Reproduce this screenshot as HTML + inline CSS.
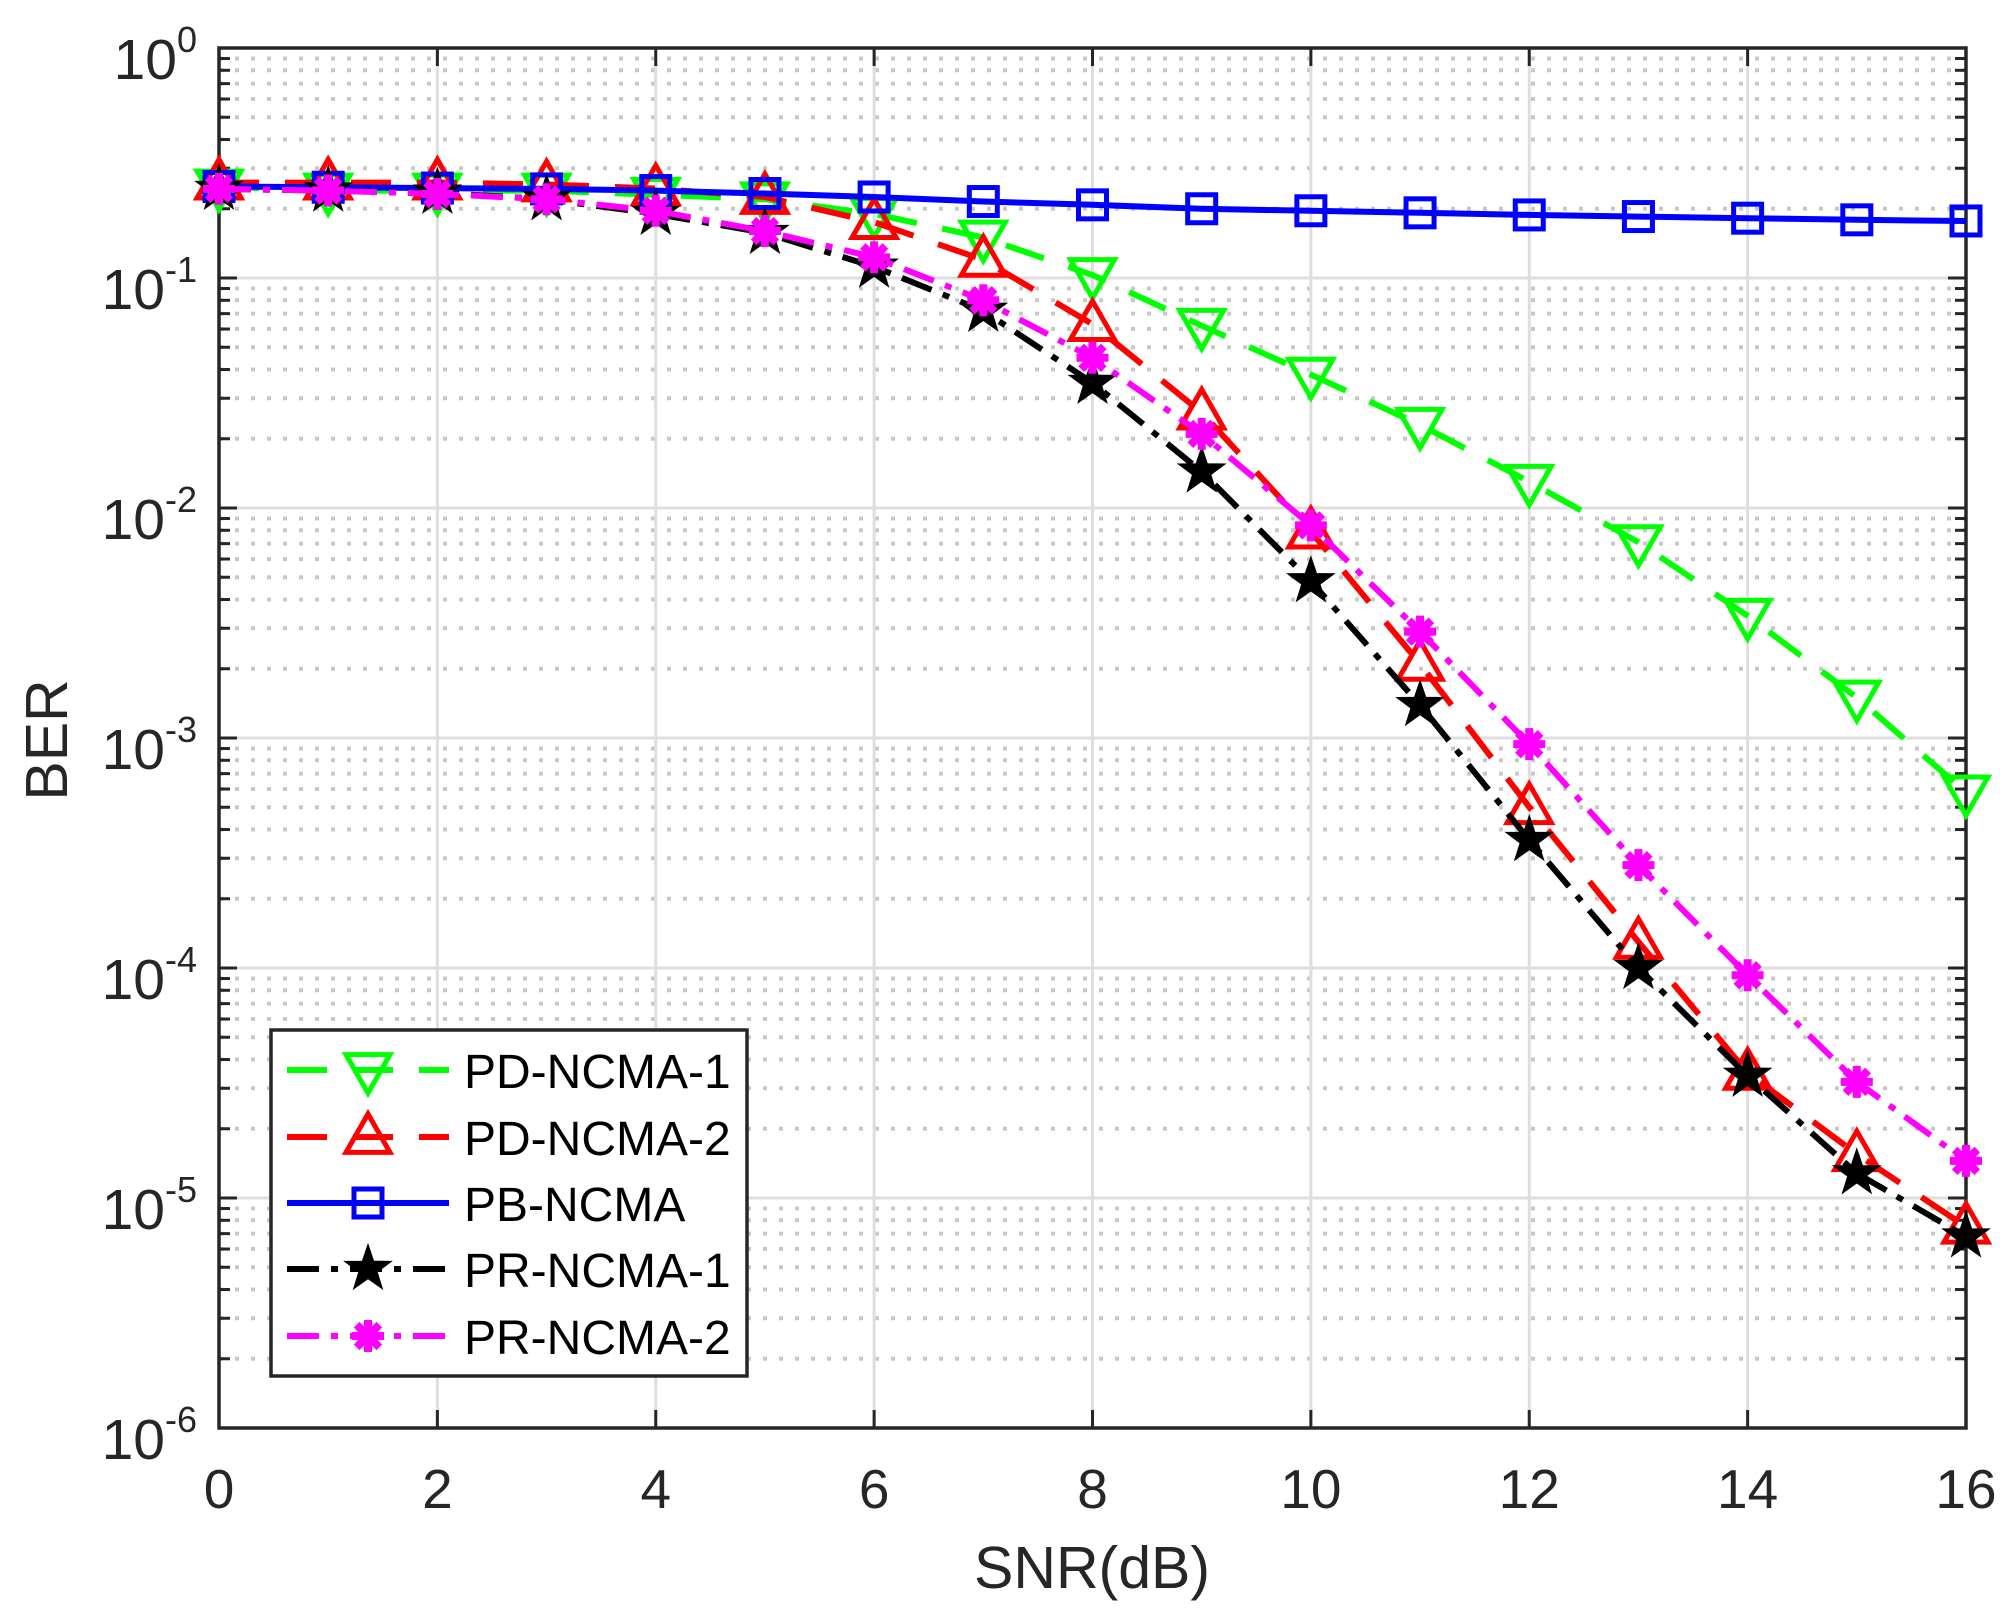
<!DOCTYPE html>
<html><head><meta charset="utf-8">
<style>
html,body{margin:0;padding:0;background:#fff;}
svg{display:block;font-family:"Liberation Sans",Arial,sans-serif;}
</style></head>
<body>
<svg id="chart" width="2010" height="1618" viewBox="0 0 2010 1618" xmlns="http://www.w3.org/2000/svg">
<rect width="2010" height="1618" fill="#fff"/>
<g id="grid"></g>
<g id="axes"></g>
<g id="series"></g>
<g id="legend"></g>
<text x="1092" y="1588" font-size="59" fill="#262626" text-anchor="middle">SNR(dB)</text>
<text transform="translate(67,740) rotate(-90)" font-size="59" fill="#262626" text-anchor="middle">BER</text>
</svg>
<script>
const snr = [0,1,2,3,4,5,6,7,8,9,10,11,12,13,14,15,16];
const pdNcma1 = [0.25,0.24,0.24,0.24,0.23,0.22,0.19,0.15,0.103,0.062,0.038,0.023,0.013,0.0071,0.0034,0.0015,0.00058];
const pdNcma2 = [0.26,0.26,0.26,0.255,0.245,0.225,0.175,0.12,0.063,0.026,0.0079,0.0021,0.0005,0.00013,0.000035,0.0000155,0.0000075];
const pbNcma = [0.25,0.248,0.246,0.244,0.24,0.233,0.225,0.215,0.208,0.2,0.196,0.192,0.188,0.185,0.182,0.179,0.177];
const prNcma1 = [0.244,0.24,0.235,0.22,0.19,0.157,0.112,0.072,0.035,0.0144,0.0048,0.00139,0.00036,0.0001,0.000034,0.0000128,0.0000068];
const prNcma2 = [0.244,0.24,0.232,0.22,0.196,0.16,0.123,0.08,0.045,0.021,0.0084,0.0029,0.00094,0.00028,0.000093,0.000032,0.0000145];
const xTicks = [0,2,4,6,8,10,12,14,16];
const yExps = [0,-1,-2,-3,-4,-5,-6];

const NS="http://www.w3.org/2000/svg";
const L=219,R=1966,T=48,B=1428;
const X=v=>L+(v-0)/16*(R-L);
const Y=v=>T+(-Math.log10(v))/6*(B-T);
function mk(tag,attrs,parent){const e=document.createElementNS(NS,tag);for(const k in attrs)e.setAttribute(k,attrs[k]);parent.appendChild(e);return e;}
const grid=document.getElementById('grid'),axes=document.getElementById('axes'),series=document.getElementById('series'),legend=document.getElementById('legend');

for(let e=0;e>-6;e--){for(let m=2;m<=9;m++){const y=Y(m*Math.pow(10,e-1));
 const g=mk('line',{x1:L,x2:R,y1:y,y2:y,stroke:'#c8c8c8','stroke-width':4,'stroke-dasharray':'4 12'},grid);
 
 
 mk('line',{x1:L,x2:L+11,y1:y,y2:y,stroke:'#262626','stroke-width':3},axes);
 mk('line',{x1:R-11,x2:R,y1:y,y2:y,stroke:'#262626','stroke-width':3},axes);
}}
yExps.forEach(e=>{const y=Y(Math.pow(10,e));
 const g=mk('line',{x1:L,x2:R,y1:y,y2:y,stroke:'#dedede','stroke-width':3},grid);
 
 
 mk('line',{x1:L,x2:L+18,y1:y,y2:y,stroke:'#262626','stroke-width':3},axes);
 mk('line',{x1:R-18,x2:R,y1:y,y2:y,stroke:'#262626','stroke-width':3},axes);
 const t=mk('text',{x:197,y:y+31,'font-size':57,fill:'#262626','text-anchor':'end'},axes);
 
 
 t.appendChild(document.createTextNode('10'));
 const s=mk('tspan',{'font-size':36,dy:-27},t);s.textContent=String(e);
});
xTicks.forEach(v=>{const x=X(v);
 const g=mk('line',{x1:x,x2:x,y1:T,y2:B,stroke:'#dedede','stroke-width':3},grid);
 
 
 mk('line',{x1:x,x2:x,y1:B-18,y2:B,stroke:'#262626','stroke-width':3},axes);
 mk('line',{x1:x,x2:x,y1:T,y2:T+18,stroke:'#262626','stroke-width':3},axes);
 const t=mk('text',{x:x,y:1508,'font-size':55,fill:'#262626','text-anchor':'middle'},axes);
 
 
 t.textContent=String(v);
});
const box=mk('rect',{x:L,y:T,width:R-L,height:B-T,fill:'none',stroke:'#262626','stroke-width':3.5},axes);



function marker(type,x,y,color,parent){
 const s=22;
 if(type==='tdown') return mk('polygon',{points:`${x-s},${y-s*0.7} ${x+s},${y-s*0.7} ${x},${y+s*1.05}`,fill:'none',stroke:color,'stroke-width':5},parent);
 if(type==='tup') return mk('polygon',{points:`${x-s},${y+s*0.7} ${x+s},${y+s*0.7} ${x},${y-s*1.05}`,fill:'none',stroke:color,'stroke-width':5},parent);
 if(type==='sq') return mk('rect',{x:x-14,y:y-14,width:28,height:28,fill:'none',stroke:color,'stroke-width':5},parent);
 if(type==='star'){let p=[];for(let i=0;i<10;i++){const r=i%2?9:23,a=-Math.PI/2+i*Math.PI/5;p.push((x+r*Math.cos(a)).toFixed(1)+','+(y+r*Math.sin(a)).toFixed(1));}
  return mk('polygon',{points:p.join(' '),fill:color,stroke:color,'stroke-width':2},parent);}
 if(type==='ast'){const g=mk('g',{},parent);for(let i=0;i<4;i++){const a=i*Math.PI/4;mk('line',{x1:x-16*Math.cos(a),y1:y-16*Math.sin(a),x2:x+16*Math.cos(a),y2:y+16*Math.sin(a),stroke:color,'stroke-width':8},g);}mk('circle',{cx:x,cy:y,r:10,fill:color},g);return g;}
}
const defs=[
 {name:'PD-NCMA-1',data:pdNcma1,color:'#00ff00',dash:'40 26',m:'tdown'},
 {name:'PD-NCMA-2',data:pdNcma2,color:'#ff0000',dash:'40 26',m:'tup'},
 {name:'PB-NCMA',data:pbNcma,color:'#0000ff',dash:'',m:'sq'},
 {name:'PR-NCMA-1',data:prNcma1,color:'#000000',dash:'32 12 7 12',m:'star'},
 {name:'PR-NCMA-2',data:prNcma2,color:'#ff00ff',dash:'32 12 7 12',m:'ast'}
];
defs.forEach(d=>{
 const g=mk('g',{},series);
 
 
 const pts=d.data.map((v,i)=>X(snr[i]).toFixed(1)+','+Y(v).toFixed(1)).join(' ');
 const pl=mk('polyline',{points:pts,fill:'none',stroke:d.color,'stroke-width':6,'stroke-dasharray':d.dash},g);
 
 
 d.data.forEach((v,i)=>{const mm=marker(d.m,X(snr[i]),Y(v),d.color,g);
  
  });
});
const lb=mk('rect',{x:271,y:1030,width:476,height:346,fill:'#fff',stroke:'#262626','stroke-width':3.5},legend);


const ly=[1070,1137,1203,1269,1336];
defs.forEach((d,i)=>{
 const g=mk('g',{},legend);
 
 
 mk('line',{x1:287,x2:449,y1:ly[i],y2:ly[i],stroke:d.color,'stroke-width':6,'stroke-dasharray':d.dash},g);
 marker(d.m,368,ly[i],d.color,g);
 const t=mk('text',{x:464,y:ly[i]+18,'font-size':48,fill:'#000'},g);
 t.textContent=d.name;
});
</script>
</body></html>
